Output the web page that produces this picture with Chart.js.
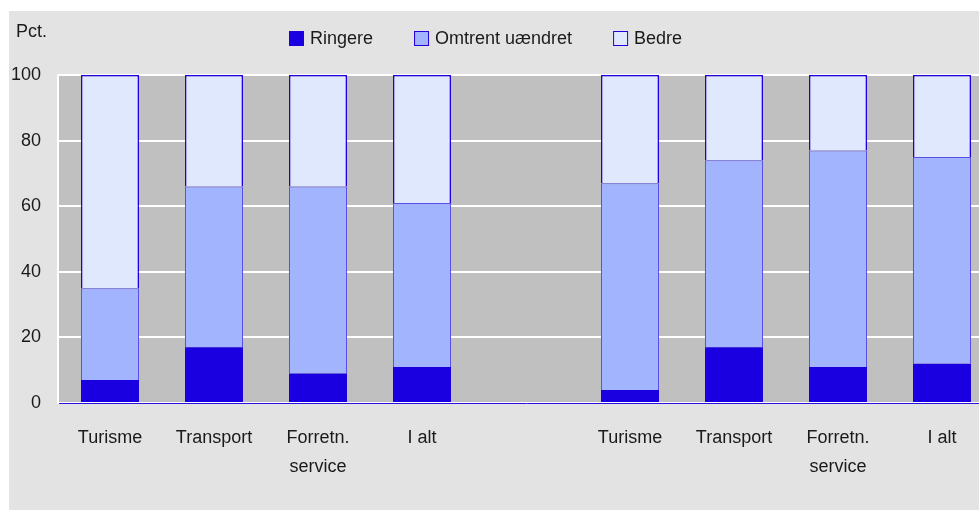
<!DOCTYPE html>
<html>
<head>
<meta charset="utf-8">
<script src="https://cdn.jsdelivr.net/npm/chart.js@4.4.1/dist/chart.umd.min.js"></script>
<style>
  html, body { margin: 0; padding: 0; overflow: hidden; background: #ffffff; }
  #wrap { width: 979px; height: 510px; overflow: hidden; position: relative; }
  canvas { position: absolute; left: 0; top: 0; }
</style>
</head>
<body>
<div id="wrap"><canvas id="chart" width="1000" height="510"></canvas></div>
<script>
// data (pct.)
const categories = ['Turisme', 'Transport', ['Forretn.', 'service'], 'I alt', '',
                    'Turisme', 'Transport', ['Forretn.', 'service'], 'I alt'];
const ringere = [7, 17, 9, 11, null, 4, 17, 11, 12];
const omtrent = [28, 49, 57, 50, null, 63, 57, 66, 63];
const bedre   = [65, 34, 34, 39, null, 33, 26, 23, 25];
const yTicks  = [0, 20, 40, 60, 80, 100];

const FONT = 'Liberation Sans, Arial, sans-serif';

// grey panel, plot background, "Pct." and the legend
const decor = {
    id: 'decor',
    beforeDraw(chart) {
        const ctx = chart.ctx;
        const a = chart.chartArea;
        ctx.save();
        ctx.fillStyle = '#e3e3e3';
        ctx.fillRect(9, 11, chart.width - 9, chart.height - 11);
        ctx.fillStyle = '#c0c0c0';
        ctx.fillRect(a.left, a.top, a.right - a.left, a.bottom - a.top);
        ctx.restore();
    },
    afterDraw(chart) {
        const ctx = chart.ctx;
        ctx.save();
        ctx.font = '18px ' + FONT;
        ctx.fillStyle = '#1a1a1a';
        ctx.textBaseline = 'middle';
        ctx.textAlign = 'left';
        ctx.fillText('Pct.', 16, 32);

        let x = 289;
        chart.data.datasets.forEach(ds => {
            ctx.fillStyle = ds.backgroundColor;
            ctx.fillRect(x, 31, 15, 15);
            ctx.strokeStyle = '#2200dd';
            ctx.lineWidth = 1;
            ctx.strokeRect(x + 0.5, 31.5, 14, 14);
            ctx.fillStyle = '#1a1a1a';
            ctx.fillText(ds.label, x + 21, 39);
            x += 21 + ctx.measureText(ds.label).width + 41;
        });
        ctx.restore();
    }
};

new Chart(document.getElementById('chart'), {
    type: 'bar',
    data: {
        labels: categories,
        datasets: [
            { label: 'Ringere', data: ringere, backgroundColor: '#1a00e0', borderColor: '#1a00e0', borderWidth: 0 },
            { label: 'Omtrent uændret', data: omtrent, backgroundColor: '#a2b4fe', borderColor: '#5a50e8', borderWidth: 1 },
            { label: 'Bedre', data: bedre, backgroundColor: '#e0e8fe', borderColor: '#2200dd', borderWidth: 1.5 }
        ]
    },
    options: {
        responsive: false,
        animation: false,
        layout: { padding: { top: 75, right: 6, bottom: 0, left: 0 } },
        datasets: {
            bar: { barPercentage: 1, categoryPercentage: 58 / 104 }
        },
        plugins: {
            legend: { display: false },
            tooltip: { enabled: false }
        },
        scales: {
            x: {
                stacked: true,
                grid: { display: false, drawTicks: false },
                border: { display: true, color: '#2a10e0', width: 1 },
                ticks: {
                    color: '#1a1a1a',
                    padding: 21,
                    maxRotation: 0,
                    autoSkip: false,
                    font: { family: FONT, size: 18, lineHeight: 1.6 }
                },
                afterFit(scale) { scale.height = 107; }
            },
            y: {
                stacked: true,
                min: 0,
                max: 100,
                afterBuildTicks(scale) { scale.ticks = yTicks.map(v => ({ value: v })); },
                grid: { color: '#ffffff', lineWidth: 2, drawTicks: false },
                border: { display: true, color: '#ffffff', width: 2 },
                ticks: {
                    color: '#1a1a1a',
                    padding: 17,
                    font: { family: FONT, size: 18 }
                },
                afterFit(scale) { scale.width = 58; }
            }
        }
    },
    plugins: [decor]
});
</script>
</body>
</html>
